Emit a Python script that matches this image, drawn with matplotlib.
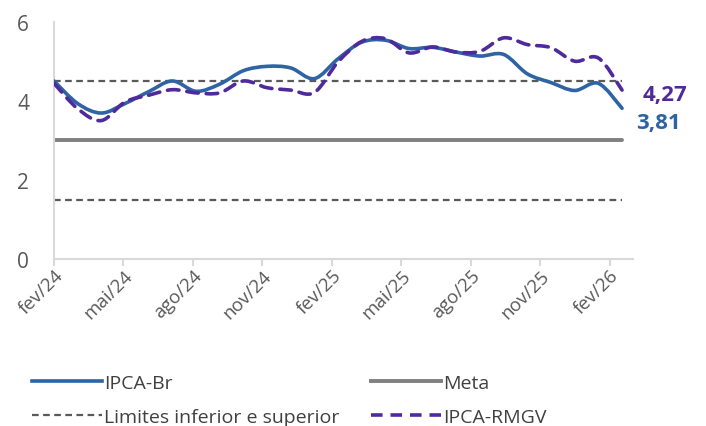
import numpy as np
import matplotlib
matplotlib.use('Agg')
import matplotlib.pyplot as plt
from matplotlib.path import Path
from matplotlib.patches import PathPatch
from matplotlib.lines import Line2D

plt.rcParams['font.family'] = ['Open Sans', 'DejaVu Sans']

months = ['fev/24', 'mar/24', 'abr/24', 'mai/24', 'jun/24', 'jul/24', 'ago/24',
          'set/24', 'out/24', 'nov/24', 'dez/24', 'jan/25', 'fev/25', 'mar/25',
          'abr/25', 'mai/25', 'jun/25', 'jul/25', 'ago/25', 'set/25', 'out/25',
          'nov/25', 'dez/25', 'jan/26', 'fev/26']
ipca_br = [4.50, 3.93, 3.69, 3.93, 4.23, 4.50, 4.24, 4.42, 4.76, 4.87, 4.83, 4.56,
           5.06, 5.48, 5.53, 5.32, 5.35, 5.23, 5.13, 5.17, 4.68, 4.46, 4.26, 4.44, 3.81]
ipca_rmgv = [4.44, 3.80, 3.50, 3.97, 4.14, 4.28, 4.20, 4.20, 4.50, 4.33, 4.27, 4.21,
             4.98, 5.50, 5.57, 5.21, 5.36, 5.23, 5.25, 5.59, 5.42, 5.34, 5.00, 5.08, 4.27]
meta = 3.0
lim_inf = 1.5
lim_sup = 4.5

BLUE = '#2E63A4'
PURPLE = '#4F2A9C'
GRAY = '#808080'
DGRAY = '#595959'
AXGRAY = '#D9D9D9'


def smooth_path(x, y):
    # excel-like smoothed line: cubic bezier through every point
    x = np.asarray(x, float)
    y = np.asarray(y, float)
    n = len(x)
    verts = [(x[0], y[0])]
    codes = [Path.MOVETO]
    for i in range(n - 1):
        p0 = np.array([x[max(i - 1, 0)], y[max(i - 1, 0)]])
        p1 = np.array([x[i], y[i]])
        p2 = np.array([x[i + 1], y[i + 1]])
        p3 = np.array([x[min(i + 2, n - 1)], y[min(i + 2, n - 1)]])
        c1 = p1 + (p2 - p0) / 6
        c2 = p2 - (p3 - p1) / 6
        verts += [tuple(c1), tuple(c2), tuple(p2)]
        codes += [Path.CURVE4] * 3
    return Path(verts, codes)


x = np.arange(len(months))

fig = plt.figure(figsize=(7.06, 4.27), dpi=100)
ax = fig.add_axes([0.0765, 0.391, 0.82, 0.556])

ax.plot([x[0], x[-1]], [lim_sup, lim_sup], color=DGRAY, lw=1.6, ls=(0, (3, 2)))
ax.plot([x[0], x[-1]], [lim_inf, lim_inf], color=DGRAY, lw=1.6, ls=(0, (3, 2)))
ax.plot([x[0], x[-1]], [meta, meta], color=GRAY, lw=2.8, solid_capstyle='round')

ax.add_patch(PathPatch(smooth_path(x, ipca_br), fill=False, edgecolor=BLUE,
                       lw=2.6, capstyle='round', zorder=3))
ax.add_patch(PathPatch(smooth_path(x, ipca_rmgv), fill=False, edgecolor=PURPLE,
                       lw=2.6, ls=(0, (3.2, 2.2)), capstyle='round', zorder=4))

ax.annotate(f'{ipca_rmgv[-1]:.2f}'.replace('.', ','), (x[-1], ipca_rmgv[-1]),
            xytext=(15, -3), textcoords='offset points', ha='left', va='center',
            color=PURPLE, fontsize=16, fontweight='bold', annotation_clip=False)
ax.annotate(f'{ipca_br[-1]:.2f}'.replace('.', ','), (x[-1], ipca_br[-1]),
            xytext=(10, -10), textcoords='offset points', ha='left', va='center',
            color=BLUE, fontsize=16, fontweight='bold', annotation_clip=False)

ax.set_ylim(0, 6)
ax.set_yticks([0, 2, 4, 6])
ax.set_xlim(0, 24.46)
# axis ticks sit slightly tighter than the monthly points in the original
tick_step = 2.935
ax.set_xticks(np.arange(9) * tick_step)
ax.set_xticklabels(months[::3], rotation=45, ha='right', rotation_mode='anchor')

for s in ['top', 'right']:
    ax.spines[s].set_visible(False)
for s in ['left', 'bottom']:
    ax.spines[s].set_color(AXGRAY)
    ax.spines[s].set_linewidth(1.5)
ax.tick_params(axis='y', length=0, pad=18, labelsize=15, labelcolor=DGRAY)
ax.tick_params(axis='x', length=5, width=1.5, color=AXGRAY, pad=0,
               labelsize=13.5, labelcolor=DGRAY)

handles = [Line2D([], [], color=BLUE, lw=2.6),
           Line2D([], [], color=DGRAY, lw=1.6, ls=(0, (3, 2))),
           Line2D([], [], color=GRAY, lw=2.8),
           Line2D([], [], color=PURPLE, lw=2.6, ls=(0, (3.2, 2.2)))]
labels = ['IPCA-Br', 'Limites inferior e superior', 'Meta', 'IPCA-RMGV']
fig.legend(handles, labels, ncol=2, loc='upper left', bbox_to_anchor=(0.035, 0.14),
           frameon=False, fontsize=14, labelcolor='#404040', handlelength=3.6,
           handletextpad=0.1, columnspacing=1.6, labelspacing=0.8, borderaxespad=0)

fig.savefig('out.png', dpi=100)
